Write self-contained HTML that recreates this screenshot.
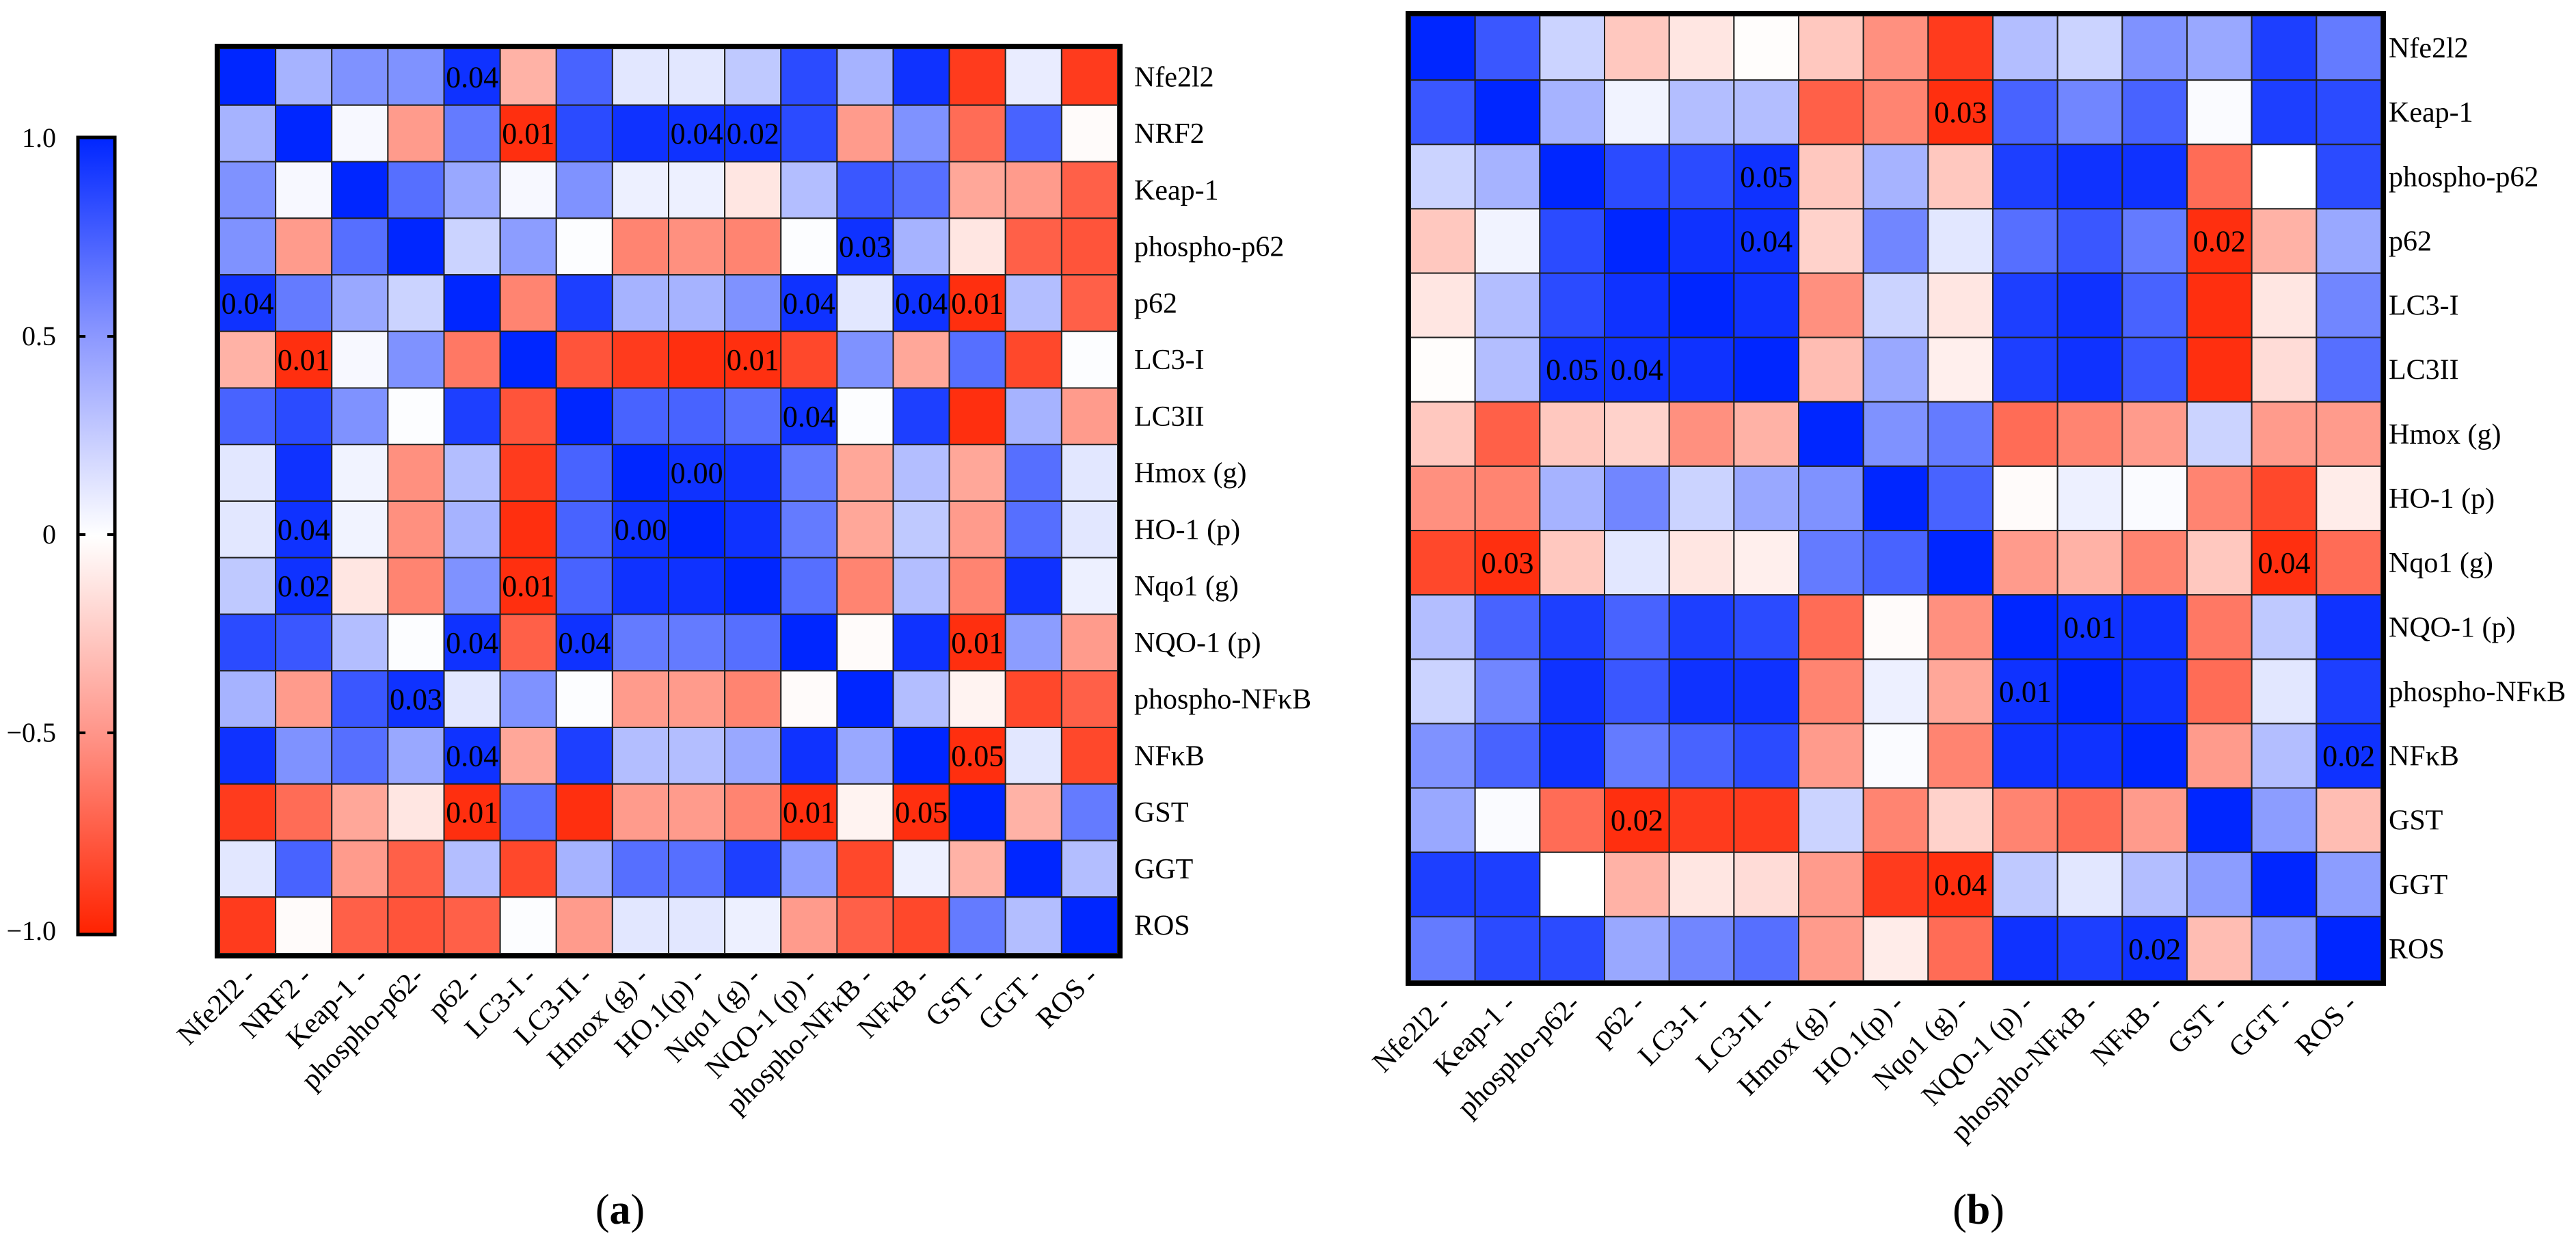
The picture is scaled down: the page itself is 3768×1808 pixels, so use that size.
<!DOCTYPE html>
<html><head><meta charset="utf-8">
<style>
html,body{margin:0;padding:0;background:#fff;}
svg{display:block;}
svg text{font-family:"Liberation Serif","Times New Roman",serif;fill:#000;}
</style></head>
<body>
<svg id="fig" width="3768" height="1808" viewBox="0 0 3768 1808" xmlns="http://www.w3.org/2000/svg" font-family="Liberation Serif, serif">
<defs>
<linearGradient id="cbgrad" x1="0" y1="0" x2="0" y2="1">
<stop offset="0" stop-color="#0026ff"/>
<stop offset="0.25" stop-color="#8c98ff"/>
<stop offset="0.5" stop-color="#ffffff"/>
<stop offset="0.75" stop-color="#ff9488"/>
<stop offset="1" stop-color="#ff2200"/>
</linearGradient>
</defs>
<g id="colorbar">
<rect x="114" y="201" width="54" height="1166" fill="url(#cbgrad)" stroke="#000" stroke-width="5"/>
</g>
<g id="chartA"></g>
<g id="chartB"></g>
<text x="907" y="1790" font-size="62" text-anchor="middle">(<tspan font-weight="bold">a</tspan>)</text>
<text x="2894" y="1790" font-size="62" text-anchor="middle">(<tspan font-weight="bold">b</tspan>)</text>
</svg>
<script>
const NS='http://www.w3.org/2000/svg';
const labelsA=['Nfe2l2','NRF2','Keap-1','phospho-p62','p62','LC3-I','LC3II','Hmox (g)','HO-1 (p)','Nqo1 (g)','NQO-1 (p)','phospho-NF\u03baB','NF\u03baB','GST','GGT','ROS'];
const xLabelsA=['Nfe2l2 -','NRF2 -','Keap-1 -','phospho-p62-','p62 -','LC3-I -','LC3-II -','Hmox (g) -','HO.1(p) -','Nqo1 (g) -','NQO-1 (p) -','phospho-NF\u03baB -','NF\u03baB -','GST -','GGT -','ROS -'];
const valuesA=[
[1.0,0.4,0.55,0.55,0.95,-0.4,0.75,0.15,0.15,0.3,0.85,0.4,0.95,-0.9,0.12,-0.9],
[0.4,1.0,0.05,-0.5,0.65,-0.95,0.85,0.95,0.95,0.95,0.85,-0.5,0.55,-0.7,0.75,-0.03],
[0.55,0.05,1.0,0.7,0.45,0.05,0.55,0.1,0.1,-0.15,0.35,0.8,0.7,-0.45,-0.5,-0.75],
[0.55,-0.5,0.7,1.0,0.25,0.5,0.02,-0.6,-0.55,-0.6,0.02,0.95,0.4,-0.15,-0.75,-0.8],
[0.95,0.65,0.45,0.25,1.0,-0.6,0.9,0.4,0.4,0.55,0.95,0.15,0.95,-0.95,0.35,-0.75],
[-0.4,-0.95,0.05,0.55,-0.65,1.0,-0.8,-0.9,-0.95,-0.95,-0.85,0.55,-0.45,0.7,-0.85,0.02],
[0.75,0.85,0.55,0.02,0.9,-0.8,1.0,0.75,0.75,0.7,0.95,0.02,0.9,-0.95,0.4,-0.5],
[0.15,0.95,0.08,-0.55,0.35,-0.9,0.75,1.0,0.95,0.95,0.65,-0.45,0.35,-0.45,0.7,0.15],
[0.15,0.95,0.08,-0.55,0.4,-0.95,0.75,0.95,1.0,0.95,0.65,-0.45,0.3,-0.5,0.7,0.15],
[0.3,0.95,-0.15,-0.6,0.55,-0.95,0.75,0.95,0.95,1.0,0.7,-0.6,0.35,-0.6,0.95,0.1],
[0.85,0.8,0.35,0.02,0.95,-0.75,0.95,0.65,0.65,0.7,1.0,-0.03,0.95,-0.95,0.5,-0.5],
[0.4,-0.5,0.8,0.95,0.15,0.55,0.02,-0.5,-0.5,-0.6,-0.03,1.0,0.35,-0.08,-0.85,-0.75],
[0.95,0.55,0.7,0.45,0.95,-0.45,0.9,0.35,0.35,0.45,0.95,0.45,1.0,-0.95,0.15,-0.85],
[-0.9,-0.7,-0.45,-0.15,-0.95,0.7,-0.95,-0.5,-0.5,-0.6,-0.95,-0.08,-0.95,1.0,-0.4,0.65],
[0.15,0.75,-0.5,-0.75,0.35,-0.85,0.4,0.7,0.7,0.9,0.5,-0.85,0.1,-0.4,1.0,0.35],
[-0.9,-0.03,-0.75,-0.8,-0.75,0.02,-0.5,0.15,0.15,0.1,-0.5,-0.75,-0.85,0.65,0.35,1.0]];
const pA=[
[0,4,'0.04'],[1,5,'0.01'],[1,8,'0.04'],[1,9,'0.02'],[3,11,'0.03'],
[4,0,'0.04'],[4,10,'0.04'],[4,12,'0.04'],[4,13,'0.01'],[5,1,'0.01'],[5,9,'0.01'],
[6,10,'0.04'],[7,8,'0.00'],[8,1,'0.04'],[8,7,'0.00'],[9,1,'0.02'],[9,5,'0.01'],
[10,4,'0.04'],[10,6,'0.04'],[10,13,'0.01'],[11,3,'0.03'],[12,4,'0.04'],[12,13,'0.05'],
[13,4,'0.01'],[13,10,'0.01'],[13,12,'0.05']];
const labelsB=['Nfe2l2','Keap-1','phospho-p62','p62','LC3-I','LC3II','Hmox (g)','HO-1 (p)','Nqo1 (g)','NQO-1 (p)','phospho-NF\u03baB','NF\u03baB','GST','GGT','ROS'];
const xLabelsB=['Nfe2l2 -','Keap-1 -','phospho-p62-','p62 -','LC3-I -','LC3-II -','Hmox (g) -','HO.1(p) -','Nqo1 (g) -','NQO-1 (p) -','phospho-NF\u03baB -','NF\u03baB -','GST -','GGT -','ROS -'];
const valuesB=[
[1.0,0.8,0.25,-0.3,-0.15,-0.02,-0.3,-0.55,-0.9,0.35,0.25,0.55,0.45,0.9,0.65],
[0.8,1.0,0.4,0.08,0.35,0.35,-0.75,-0.6,-0.95,0.75,0.6,0.75,0.03,0.9,0.85],
[0.25,0.4,1.0,0.85,0.85,0.95,-0.3,0.4,-0.3,0.9,0.95,0.95,-0.7,0.0,0.85],
[-0.3,0.08,0.85,1.0,0.95,0.95,-0.25,0.6,0.15,0.7,0.8,0.65,-0.95,-0.4,0.45],
[-0.15,0.35,0.85,0.95,1.0,0.95,-0.55,0.25,-0.15,0.9,0.95,0.75,-0.95,-0.15,0.6],
[-0.02,0.35,0.95,0.95,0.95,1.0,-0.35,0.45,-0.1,0.9,0.95,0.8,-0.95,-0.2,0.7],
[-0.3,-0.75,-0.3,-0.25,-0.55,-0.4,1.0,0.55,0.65,-0.7,-0.6,-0.5,0.25,-0.5,-0.5],
[-0.55,-0.6,0.4,0.6,0.25,0.45,0.55,1.0,0.75,-0.03,0.1,0.03,-0.6,-0.85,-0.12],
[-0.85,-0.95,-0.3,0.15,-0.15,-0.1,0.65,0.75,1.0,-0.5,-0.4,-0.6,-0.3,-0.95,-0.7],
[0.35,0.75,0.9,0.75,0.9,0.85,-0.7,-0.03,-0.55,1.0,0.95,0.95,-0.65,0.3,0.95],
[0.25,0.6,0.95,0.8,0.95,0.95,-0.6,0.1,-0.45,0.95,1.0,0.95,-0.7,0.15,0.9],
[0.55,0.75,0.95,0.65,0.75,0.85,-0.5,0.03,-0.6,0.95,0.95,1.0,-0.5,0.35,0.95],
[0.45,0.03,-0.7,-0.95,-0.9,-0.9,0.25,-0.6,-0.25,-0.6,-0.7,-0.5,1.0,0.5,-0.35],
[0.9,0.9,0.0,-0.4,-0.15,-0.2,-0.5,-0.9,-0.95,0.3,0.15,0.35,0.5,1.0,0.5],
[0.65,0.85,0.85,0.45,0.6,0.7,-0.5,-0.12,-0.7,0.95,0.9,0.95,-0.35,0.5,1.0]];
const pB=[
[1,8,'0.03'],[2,5,'0.05'],[3,5,'0.04'],[3,12,'0.02'],[5,2,'0.05'],[5,3,'0.04'],
[8,1,'0.03'],[8,13,'0.04'],[9,10,'0.01'],[10,9,'0.01'],[11,14,'0.02'],
[12,3,'0.02'],[13,8,'0.04'],[14,11,'0.02']];
const cbTicks=[1.0,0.5,0,-0.5,-1.0];
const cbTickLabels=['1.0','0.5','0','\u22120.5','\u22121.0'];

function color(v){
  const t=Math.pow(Math.min(1,Math.abs(v)),1.15);
  let r,g,b;
  if(v>=0){r=255*(1-t);g=255-(255-38)*t;b=255;}
  else{r=255;g=255-(255-34)*t;b=255-255*t;}
  return 'rgb('+Math.round(r)+','+Math.round(g)+','+Math.round(b)+')';
}
function mk(tag,attrs,parent){const e=document.createElementNS(NS,tag);for(const k in attrs)e.setAttribute(k,attrs[k]);parent.appendChild(e);return e;}

function draw(gid,x0,y0,x1,y1,rows,xl,vals,ps,labelX,key){
  const g=document.getElementById(gid);
  const n=rows.length;
  const cw=(x1-x0)/n,ch=(y1-y0)/n;
  const xs=i=>x0+i*cw, ys=j=>y0+j*ch;
  for(let r=0;r<n;r++)for(let c=0;c<n;c++){
    const rc=mk('rect',{x:xs(c),y:ys(r),width:cw,height:ch,fill:color(vals[r][c]),stroke:'#222','stroke-width':2},g);
    
    
  }
  ps.forEach(p=>{
    const t=mk('text',{x:xs(p[1])+cw/2,y:ys(p[0])+ch/2+15,'font-size':44,'text-anchor':'middle','font-family':'Liberation Serif, serif'},g);
    t.textContent=p[2];
    
    
  });
  const fr=mk('rect',{x:x0-3.5,y:y0-3.5,width:x1-x0+7,height:y1-y0+7,fill:'none',stroke:'#000','stroke-width':7},g);
  
  
  rows.forEach((l,r)=>{
    const t=mk('text',{x:labelX,y:ys(r)+ch/2+14,'font-size':42,'font-family':'Liberation Serif, serif'},g);
    t.textContent=l;
    
    
  });
  xl.forEach((l,c)=>{
    const cx=xs(c)+cw/2+14, cy=y1+36;
    const t=mk('text',{x:cx,y:cy,'font-size':42,'text-anchor':'end','font-family':'Liberation Serif, serif',transform:'rotate(-45 '+cx+' '+cy+')'},g);
    t.textContent=l;
    
    
  });
}
draw('chartA',321,71,1635,1395,labelsA,xLabelsA,valuesA,pA,1659,'a');
draw('chartB',2063,23,3483,1435,labelsB,xLabelsB,valuesB,pB,3494,'b');

const cb=document.getElementById('colorbar');
const cbY=v=>782-v*580;
cbTicks.forEach((v,i)=>{
  const y=cbY(v);
  if(Math.abs(v)<1){
    const a=mk('line',{x1:114,y1:y,x2:125,y2:y,stroke:'#000','stroke-width':4},cb);
    
    
    const b=mk('line',{x1:157,y1:y,x2:168,y2:y,stroke:'#000','stroke-width':4},cb);
    
    
  }
  const t=mk('text',{x:82,y:y+13,'font-size':40,'text-anchor':'end','font-family':'Liberation Serif, serif'},cb);
  t.textContent=cbTickLabels[i];
  
  
});
</script>
</body></html>
